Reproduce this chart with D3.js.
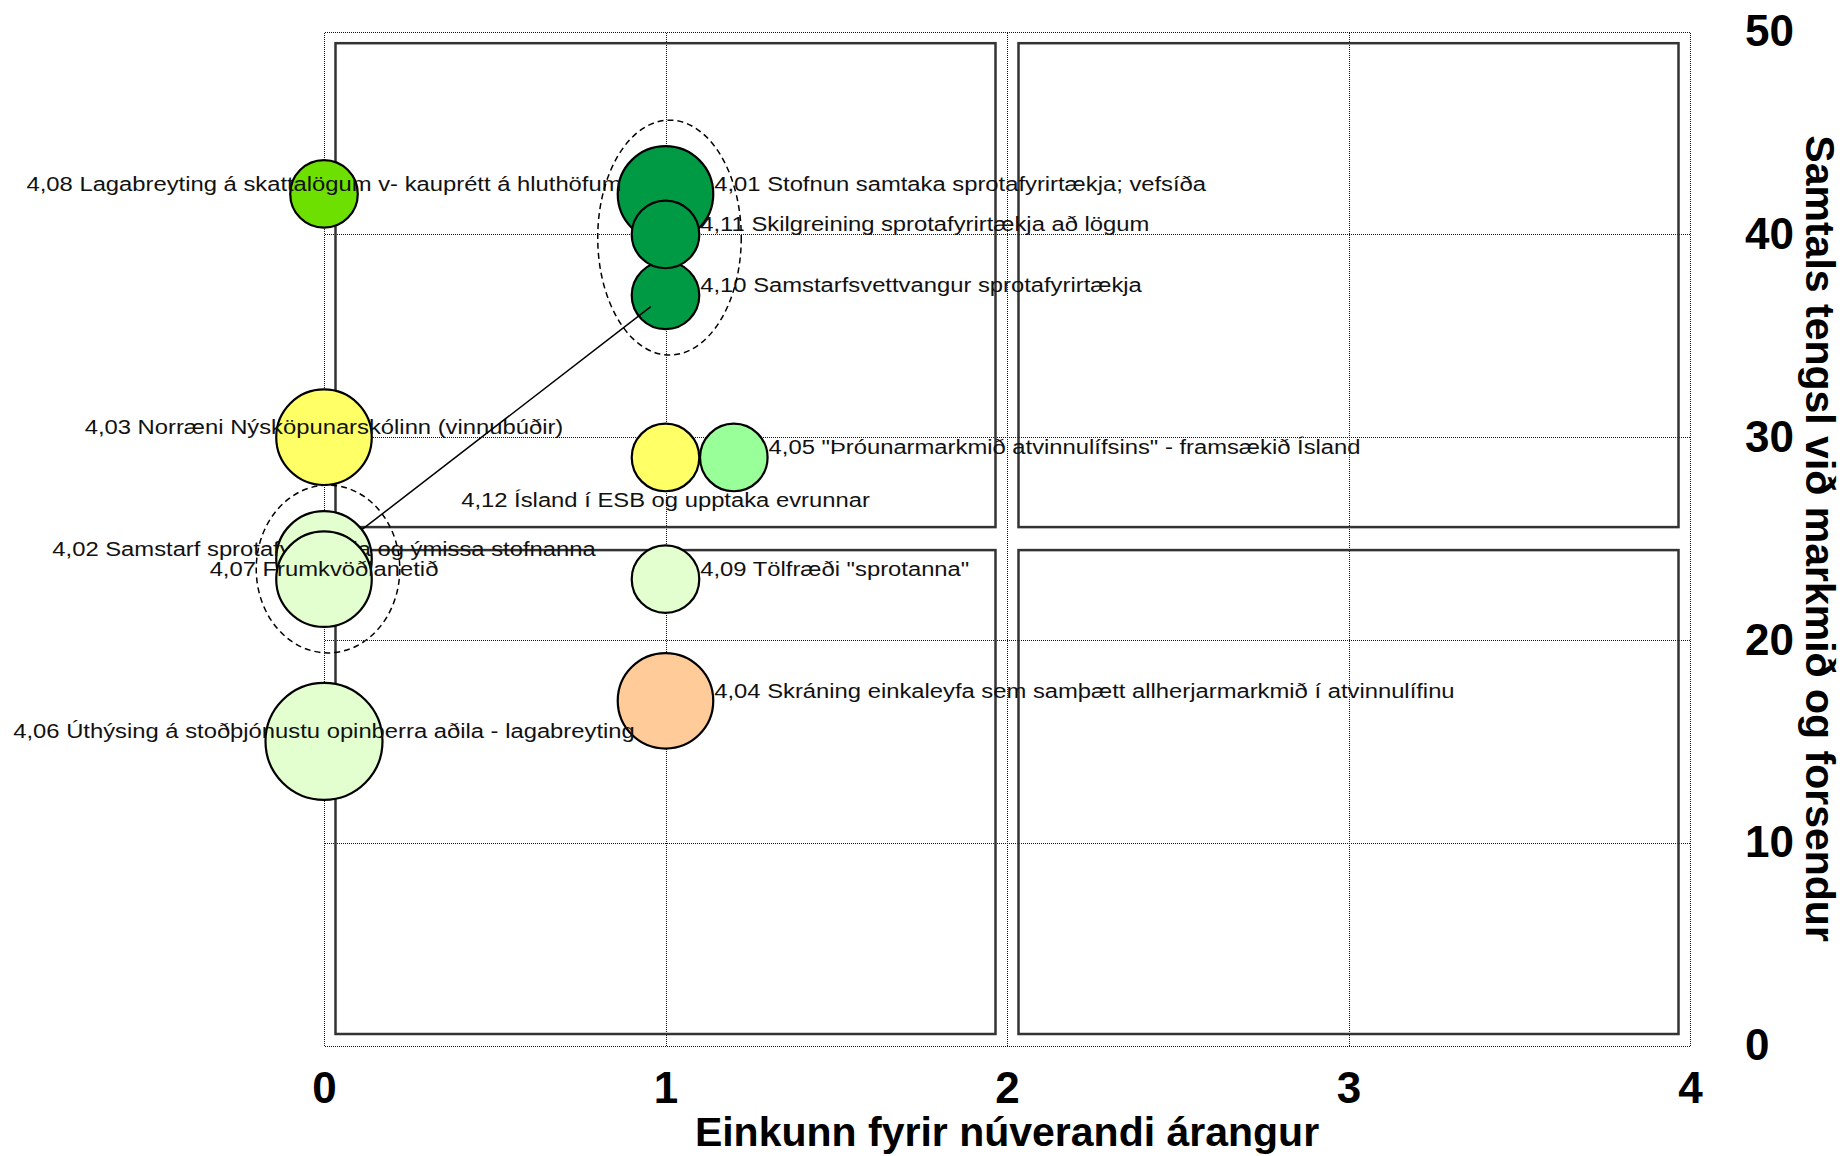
<!DOCTYPE html>
<html>
<head>
<meta charset="utf-8">
<script src="https://cdn.jsdelivr.net/npm/d3@7"></script>
<style>
  body { margin: 0; background: #fff; }
  svg { display: block; font-family: "Liberation Sans", Arial, sans-serif; }
</style>
</head>
<body>
<script>
// Gogn lesin af myndinni
const ids = ["4,01", "4,02", "4,03", "4,04", "4,05", "4,06", "4,07", "4,08", "4,09", "4,10", "4,11", "4,12"];
const names = [
  "4,01 Stofnun samtaka sprotafyrirtækja; vefsíða",
  "4,02 Samstarf sprotafyrirtækja og ýmissa stofnanna",
  "4,03 Norræni Nýsköpunarskólinn (vinnubúðir)",
  "4,04 Skráning einkaleyfa sem samþætt allherjarmarkmið í atvinnulífinu",
  "4,05 \"Þróunarmarkmið atvinnulífsins\" - framsækið Ísland",
  "4,06 Úthýsing á stoðþjónustu opinberra aðila - lagabreyting",
  "4,07 Frumkvöðlanetið",
  "4,08 Lagabreyting á skattalögum v- kauprétt á hluthöfum",
  "4,09 Tölfræði \"sprotanna\"",
  "4,10 Samstarfsvettvangur sprotafyrirtækja",
  "4,11 Skilgreining sprotafyrirtækja að lögum",
  "4,12 Ísland í ESB og upptaka evrunnar"
];
const arangur = [1, 0, 0, 1, 1.2, 0, 0, 0, 1, 1, 1, 1];       // x
const tengsl = [42, 24, 30, 17, 29, 15, 23, 42, 23, 37, 40, 29]; // y
const vaegi = [2, 2, 2, 2, 1, 3, 2, 1, 1, 1, 1, 1];             // bubble size
const fillColors = ["#009a44", "#e3ffcf", "#ffff66", "#ffcc99", "#99ff99", "#e3ffcf",
                    "#e3ffcf", "#6ee000", "#e3ffcf", "#009a44", "#009a44", "#ffff66"];
const labelPlace = ["right", "center", "center", "right", "right", "center",
                    "center", "center", "right", "right", "right", "below"];

const xTicks = [0, 1, 2, 3, 4];
const yTicks = [0, 10, 20, 30, 40, 50];
const quadX = [0, 2, 4];
const quadY = [0, 25, 50];

// dashed rings round some bubbles, and one connector line
const groups = [["4,01", "4,11", "4,10"], ["4,02", "4,07"]];
const links = [["4,10", "4,02"]];

const xTitle = "Einkunn fyrir núverandi árangur";
const yTitle = "Samtals tengsl við markmið og forsendur";

const width = 1842;
const height = 1156;

const x = d3.scaleLinear().domain([0, 4]).range([324, 1690]);
const y = d3.scaleLinear().domain([0, 50]).range([1045.5, 31.7]);
const r = d3.scaleSqrt().domain([0, 3]).range([0, 58.5]);

// snap 1px lines onto the pixel grid so the dots stay dark
const px = v => Math.round(v) + 0.5;

const points = ids.map(function (id, i) {
  return {
    id: id,
    name: names[i],
    cx: x(arangur[i]),
    cy: y(tengsl[i]),
    r: r(vaegi[i]),
    fill: fillColors[i],
    place: labelPlace[i]
  };
});
const byId = new Map(points.map(p => [p.id, p]));

const svg = d3.select("body")
  .append("svg")
  .attr("width", width)
  .attr("height", height);

svg.append("rect").attr("width", width).attr("height", height).attr("fill", "#fff");

// dotted grid (incl. the outer frame)
const grid = svg.append("g")
  .attr("stroke", "#111")
  .attr("stroke-width", 1)
  .attr("stroke-dasharray", "1,1")
  .attr("shape-rendering", "crispEdges");

grid.selectAll("line.v")
  .data(xTicks)
  .join("line")
  .attr("class", "v")
  .attr("x1", d => px(x(d))).attr("x2", d => px(x(d)))
  .attr("y1", px(y(50))).attr("y2", px(y(0)));

grid.selectAll("line.h")
  .data(yTicks)
  .join("line")
  .attr("class", "h")
  .attr("x1", px(x(0))).attr("x2", px(x(4)))
  .attr("y1", d => px(y(d))).attr("y2", d => px(y(d)));

// four solid quadrant boxes
const inset = 11.5;
const quads = [];
for (let i = 0; i < 2; i++) {
  for (let j = 0; j < 2; j++) {
    quads.push([quadX[i], quadX[i + 1], quadY[j], quadY[j + 1]]);
  }
}
svg.append("g")
  .selectAll("rect")
  .data(quads)
  .join("rect")
  .attr("x", d => x(d[0]) + inset)
  .attr("y", d => y(d[3]) + inset)
  .attr("width", d => x(d[1]) - x(d[0]) - 2 * inset)
  .attr("height", d => y(d[2]) - y(d[3]) - 2 * inset)
  .attr("fill", "none")
  .attr("stroke", "#333")
  .attr("stroke-width", 2.5);

// bubbles, each followed by its label
const items = svg.append("g")
  .selectAll("g")
  .data(points)
  .join("g");

items.append("circle")
  .attr("cx", d => d.cx)
  .attr("cy", d => d.cy)
  .attr("r", d => d.r)
  .attr("fill", d => d.fill)
  .attr("stroke", "#000")
  .attr("stroke-width", 2.2);

items.append("text")
  .attr("transform", function (d) {
    let lx = d.cx, ly = d.cy - 3;
    if (d.place === "right") lx = d.cx + d.r + 1;
    if (d.place === "below") ly = d.cy + d.r + 16;
    return "translate(" + lx + "," + ly + ") scale(1.19,1)";
  })
  .attr("text-anchor", d => d.place === "right" ? "start" : "middle")
  .attr("font-size", 20)
  .attr("fill", "#111")
  .text(d => d.name);

// dashed ellipses round the groups
svg.append("g")
  .selectAll("ellipse")
  .data(groups)
  .join("ellipse")
  .each(function (g) {
    const ps = g.map(id => byId.get(id));
    const x0 = d3.min(ps, p => p.cx - p.r), x1 = d3.max(ps, p => p.cx + p.r);
    const y0 = d3.min(ps, p => p.cy - p.r), y1 = d3.max(ps, p => p.cy + p.r);
    d3.select(this)
      .attr("cx", (x0 + x1) / 2 + 4)
      .attr("cy", (y0 + y1) / 2)
      .attr("rx", (x1 - x0) / 2 + 24)
      .attr("ry", (y1 - y0) / 2 + 26);
  })
  .attr("fill", "none")
  .attr("stroke", "#000")
  .attr("stroke-width", 1.5)
  .attr("stroke-dasharray", "6,4");

// connector from one group to the other
svg.append("g")
  .selectAll("line")
  .data(links)
  .join("line")
  .each(function (l) {
    const a = byId.get(l[0]), b = byId.get(l[1]);
    const dx = b.cx - a.cx, dy = b.cy - a.cy;
    const len = Math.sqrt(dx * dx + dy * dy);
    d3.select(this)
      .attr("x1", a.cx + dx / len * a.r * 0.55)
      .attr("y1", a.cy + dy / len * a.r * 0.55)
      .attr("x2", b.cx - dx / len * b.r)
      .attr("y2", b.cy - dy / len * b.r);
  })
  .attr("stroke", "#000")
  .attr("stroke-width", 1.5);

// axes: labels only
const xAxis = d3.axisBottom(x).tickValues(xTicks).tickSize(0).tickPadding(26).tickFormat(d3.format("d"));
svg.append("g")
  .attr("transform", "translate(0," + y(0) + ")")
  .call(xAxis)
  .call(g => g.select(".domain").remove())
  .attr("font-family", "'Liberation Sans', Arial, sans-serif")
  .attr("font-size", 44)
  .attr("font-weight", "bold")
  .selectAll("text").attr("fill", "#000");

const yAxis = d3.axisRight(y).tickValues(yTicks).tickSize(0).tickPadding(55).tickFormat(d3.format("d"));
svg.append("g")
  .attr("transform", "translate(" + x(4) + ",0)")
  .call(yAxis)
  .call(g => g.select(".domain").remove())
  .attr("font-family", "'Liberation Sans', Arial, sans-serif")
  .attr("font-size", 44)
  .attr("font-weight", "bold")
  .selectAll("text").attr("fill", "#000");

// titles
svg.append("text")
  .attr("x", (x(0) + x(4)) / 2)
  .attr("y", 1146)
  .attr("text-anchor", "middle")
  .attr("font-size", 41)
  .attr("font-weight", "bold")
  .text(xTitle);

svg.append("text")
  .attr("transform", "translate(1806," + (y(0) + y(50)) / 2 + ") rotate(90)")
  .attr("text-anchor", "middle")
  .attr("font-size", 41)
  .attr("font-weight", "bold")
  .text(yTitle);
</script>
</body>
</html>
